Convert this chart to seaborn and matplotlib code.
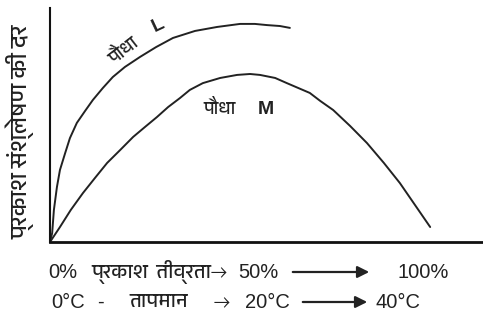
import pandas as pd
import seaborn as sns
import matplotlib.pyplot as plt
from matplotlib import font_manager

# 读取的曲线点（x: 0-100, y: 0-100）
plant_l_x = [0, 0.5, 0.9, 1.6, 2.3, 3.5, 4.6, 6.2, 8.1, 9.9, 12.2, 14.5, 17.3, 20.8, 24.5,
             28.4, 33.5, 38.6, 43.9, 47.3, 50.1, 53.1, 55.4]
plant_l_y = [0, 3.8, 13.7, 23.5, 30.8, 38.0, 44.4, 50.9, 56.0, 60.7, 65.8, 70.5, 74.8, 79.1, 83.3,
             87.2, 90.2, 91.9, 93.2, 93.2, 92.7, 92.3, 91.5]
plant_m_x = [0, 2.3, 4.8, 7.6, 10.4, 13.2, 16.2, 19.2, 21.9, 24.7, 27.3, 30.0, 32.3, 35.3, 39.3,
             43.2, 46.2, 48.5, 52.0, 54.7, 60.0, 62.4, 65.4, 69.3, 73.2, 77.1, 80.8, 84.3, 87.8]
plant_m_y = [0, 6.4, 13.7, 20.9, 27.4, 33.8, 39.3, 44.9, 49.1, 53.4, 57.7, 61.5, 65.0, 67.9, 70.1,
             71.4, 71.8, 71.4, 70.1, 67.9, 63.7, 60.3, 56.4, 49.6, 42.3, 33.8, 25.2, 15.8, 6.4]

y_label = 'प्रकाश संश्लेषण की दर'
plant_word = 'पौधा'
# (文字, 中心像素x)
row1 = [('0%', 63), ('प्रकाश  तीव्रता', 151), ('→', 219), ('50%', 258), ('100%', 423)]
row2 = [('0°C', 68), ('-', 100), ('तापमान', 159), ('→', 222), ('20°C', 267), ('40°C', 398)]
long_arrows = [(272, 290, 372), (302, 300, 370)]  # (y, x0, x1) 像素

sns.set_style('white')
# 找一个带天城文字形的字体
deva = sorted({f.name for f in font_manager.fontManager.ttflist
               if any(k in f.name for k in ('Devanagari', 'Lohit', 'Mukta', 'Hind', 'FreeSans', 'Mangal'))})
plt.rcParams['font.family'] = deva + ['DejaVu Sans']
latin = ['Liberation Sans Narrow', 'Liberation Sans'] + deva + ['DejaVu Sans']

df = pd.concat([
    pd.DataFrame({'x': plant_l_x, 'y': plant_l_y, 'plant': 'L'}),
    pd.DataFrame({'x': plant_m_x, 'y': plant_m_y, 'plant': 'M'}),
], ignore_index=True)

W, H = 483, 323
fig = plt.figure(figsize=(W / 100, H / 100), dpi=100)
ax = fig.add_axes([50 / W, 1 - 242 / H, 433 / W, 234 / H])
sns.lineplot(data=df, x='x', y='y', hue='plant', palette={'L': '#222222', 'M': '#222222'},
             linewidth=1.4, legend=False, sort=False, estimator=None, ax=ax)
ax.set_xlim(0, 100)
ax.set_ylim(0, 100)
ax.set_xticks([])
ax.set_yticks([])
ax.set_xlabel('')
ax.set_ylabel('')
for s in ['top', 'right']:
    ax.spines[s].set_visible(False)
ax.spines['left'].set_linewidth(1.5)
ax.spines['bottom'].set_linewidth(2.0)
ax.spines['left'].set_color('#111111')
ax.spines['bottom'].set_color('#111111')


def fx(px):
    return px / W


def fy(py):
    return 1 - py / H


def is_latin(t):
    return all(ord(c) < 0x900 for c in t)


fig.text(fx(20), fy(132), y_label, rotation=90, ha='center', va='center', fontsize=17, color='#222222')

# 曲线标签
fig.text(fx(123), fy(50), plant_word, rotation=38, ha='center', va='center', fontsize=13, color='#222222')
fig.text(fx(158), fy(25), 'L', rotation=25, ha='center', va='center', fontsize=14, fontweight='bold',
         color='#222222', family=latin)
fig.text(fx(220), fy(108), plant_word, ha='center', va='center', fontsize=13, color='#222222')
fig.text(fx(266), fy(109), 'M', ha='center', va='center', fontsize=14, fontweight='bold',
         color='#222222', family=latin)

for y, row in [(272, row1), (302, row2)]:
    for txt, px in row:
        fam = latin if is_latin(txt) else deva + ['DejaVu Sans']
        fig.text(fx(px), fy(y), txt, ha='center', va='center', fontsize=14.5, color='#222222', family=fam)

for y, x0, x1 in long_arrows:
    fig.add_artist(plt.Annotation('', xy=(fx(x1), fy(y)), xytext=(fx(x0), fy(y)),
                                  xycoords='figure fraction', textcoords='figure fraction',
                                  arrowprops=dict(arrowstyle='-|>,head_length=0.7,head_width=0.35',
                                                  color='#222222', lw=1.6)))

plt.savefig('out.png', dpi=100)
plt.close()
